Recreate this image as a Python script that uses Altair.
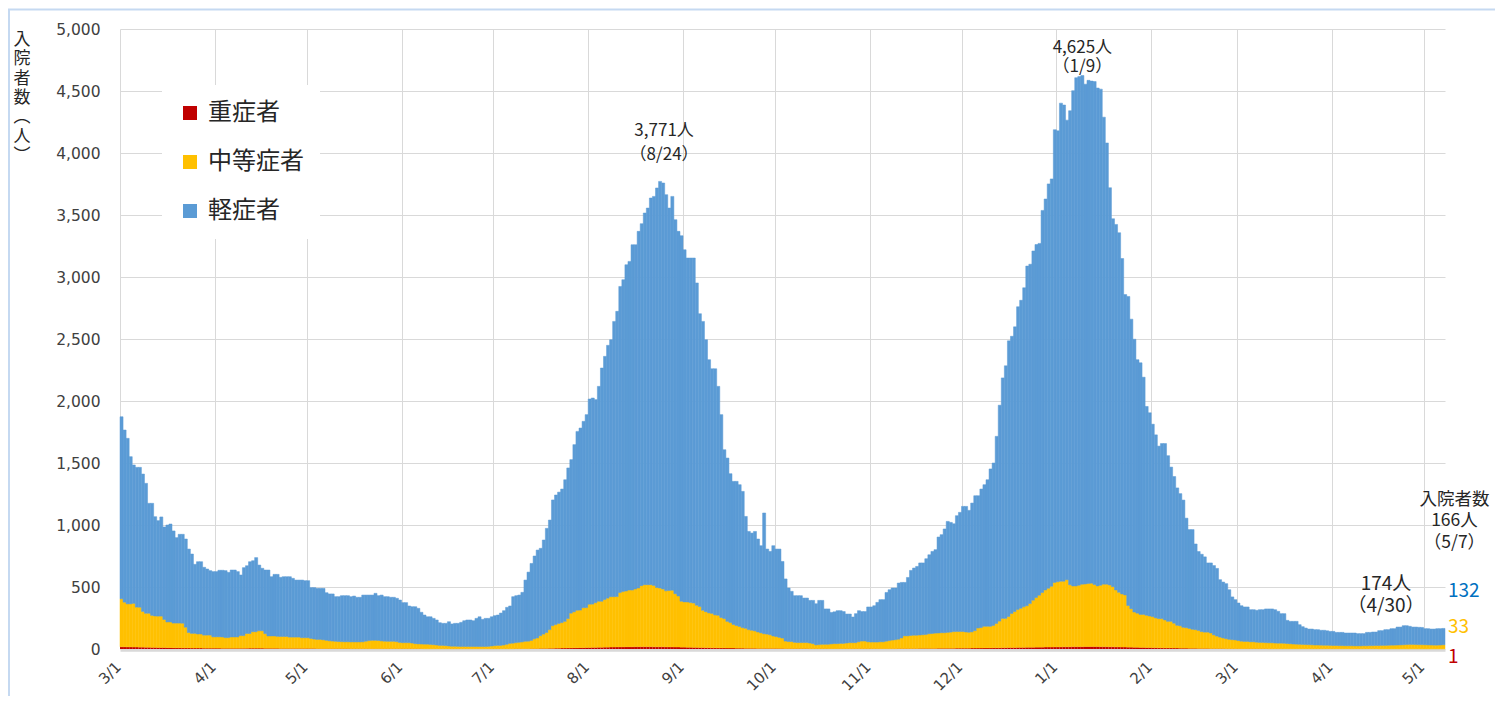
import altair as alt
import pandas as pd

# ---------------- data ----------------
FIRST_DAY = "2022-03-01"
CATEGORIES = ["重症者", "中等症者", "軽症者"]
COLORS = ["#C00000", "#FFC000", "#5B9BD5"]

# 入院者数 (total hospitalized) per day, month by month
t_2203 = [1873,1766,1699,1551,1484,1465,1465,1411,1336,1175,1175,1067,1035,1065,984,1000,1008,952,898,925,925,887,806,766,683,704,704,659,645,632,624]
t_2204 = [624,635,635,632,618,637,637,624,597,656,672,704,712,737,677,651,637,637,583,602,602,578,583,583,583,570,556,556,556,551]
t_2205 = [551,495,495,489,489,489,454,444,444,422,422,430,430,430,422,427,417,417,435,435,435,435,449,430,435,422,422,417,417,409,395]
t_2206 = [374,374,347,341,341,328,296,274,260,260,247,234,212,207,207,220,202,207,207,215,228,234,234,228,247,260,239,247,247,260]
t_2207 = [269,274,290,309,336,347,422,430,435,457,556,620,690,750,798,812,879,973,1040,1202,1242,1265,1290,1365,1460,1527,1648,1755,1782,1836,1890]
t_2208 = [2016,2024,2011,2118,2266,2360,2449,2494,2642,2723,2924,2978,3099,3126,3260,3260,3368,3430,3516,3556,3637,3650,3718,3771,3758,3664,3556,3650,3462,3368,3333]
t_2209 = [3220,3153,3153,3153,2952,2704,2642,2494,2333,2260,2260,2118,1890,1607,1540,1414,1352,1352,1325,1271,1069,948,935,948,887,833,1097,806,787,833]
t_2210 = [806,806,706,565,492,465,430,430,430,411,411,392,392,365,392,392,323,323,295,300,309,309,302,282,282,258,285,309,302,302,339]
t_2211 = [339,349,376,398,398,456,478,492,492,532,537,537,577,634,653,666,694,694,728,760,787,801,903,922,968,1029,1021,1010,1075,1102]
t_2212 = [1150,1150,1118,1177,1236,1236,1290,1325,1365,1452,1500,1715,1966,2186,2284,2485,2522,2598,2760,2812,2913,3088,3103,3210,3262,3271,3537,3629,3751,3791,4188]
t_2301 = [4179,4402,4387,4265,4341,4503,4607,4616,4625,4555,4586,4580,4576,4524,4515,4289,4081,3720,3470,3424,3357,3149,2858,2843,2660,2498,2333,2308,2192,1956,1905]
t_2302 = [1813,1727,1636,1657,1657,1559,1467,1391,1299,1253,1201,1055,963,963,847,786,764,743,694,694,673,650,559,540,527,478,420,398]
t_2303 = [371,349,339,339,317,317,312,317,317,323,323,323,317,304,285,285,231,223,223,223,196,180,169,161,161,156,156,151,151,147,142]
t_2304 = [142,134,134,134,129,129,129,129,124,124,124,134,134,137,137,148,148,156,156,164,164,177,177,188,188,183,177,177,175,174]
t_2305 = [164,164,161,161,164,164,166]

# 中等症者 per day
m_2203 = [387,360,347,347,352,322,322,288,274,274,258,253,253,253,226,207,207,199,199,199,199,167,124,118,118,113,113,105,105,105,91]
m_2204 = [91,91,91,86,86,91,91,91,102,102,118,118,132,132,140,140,118,99,99,99,96,96,96,96,91,91,91,91,86,86]
m_2205 = [86,80,75,73,73,70,66,62,60,58,56,55,54,54,54,54,54,54,55,60,65,67,67,66,62,60,59,59,59,56,50]
m_2206 = [48,48,48,45,40,38,37,37,37,35,33,30,27,27,25,22,20,20,19,18,18,18,18,18,18,18,18,18,19,22]
m_2207 = [25,27,27,30,36,43,45,48,51,54,59,60,65,78,85,102,115,128,150,182,190,199,205,215,236,280,290,303,303,322,322]
m_2208 = [349,349,360,371,371,384,395,406,406,406,438,446,450,457,457,465,473,492,500,500,500,495,478,473,465,452,455,457,430,411,370]
m_2209 = [365,365,360,357,340,330,300,290,280,277,265,263,245,236,215,205,190,182,175,165,161,150,145,140,132,125,118,115,110,100]
m_2210 = [95,89,83,60,56,56,50,48,48,48,48,45,40,30,32,35,35,35,38,40,40,42,42,45,48,48,48,55,61,61,55]
m_2211 = [53,53,53,55,55,60,65,69,72,75,85,102,102,105,107,107,108,110,112,118,120,123,123,125,125,128,130,134,134,134]
m_2212 = [134,130,128,130,140,161,165,174,174,174,180,196,215,236,236,250,275,290,306,315,327,335,352,380,400,419,440,460,474,490,520]
m_2301 = [525,529,529,541,500,489,489,495,504,504,508,511,500,489,495,504,504,498,485,459,440,428,420,336,310,284,275,266,266,260,254]
m_2302 = [250,240,235,235,225,214,214,200,183,180,168,165,160,153,150,145,135,131,131,125,110,100,92,85,80,75,72,70]
m_2303 = [65,60,58,58,55,55,52,50,50,48,48,48,46,45,45,44,42,40,38,37,36,35,34,33,32,30,30,29,28,28,27]
m_2304 = [26,26,25,25,24,24,24,23,23,23,24,24,25,25,26,27,28,28,29,30,30,31,32,33,35,36,36,35,34,34]
m_2305 = [33,32,31,30,30,31,33]

# 重症者 per day
s_2203 = [18,18,17,17,16,16,15,15,14,14,13,13,12,12,12,11,11,10,10,10,9,9,9,8,8,8,8,7,7,7,7]
s_2204 = [7,7,6,6,6,6,6,6,6,6,7,7,7,7,7,7,6,6,6,6,6,5,5,5,5,5,5,5,5,5]
s_2205 = [5,5,5,4,4,4,4,4,4,4,4,4,4,4,3,3,3,3,3,3,3,3,3,3,3,3,3,3,3,3,3]
s_2206 = [3,3,3,3,3,3,3,2,2,2,2,2,2,2,2,2,2,2,2,2,2,2,2,2,2,2,2,2,2,2]
s_2207 = [2,2,2,2,2,2,2,3,3,3,3,3,4,4,4,5,5,5,6,6,7,7,8,8,9,9,10,10,11,11,12]
s_2208 = [12,13,13,14,14,15,15,16,16,17,17,17,18,18,18,19,19,19,19,19,19,18,18,18,18,17,17,17,16,16,15]
s_2209 = [15,14,14,13,13,12,12,11,11,10,10,9,9,9,8,8,8,7,7,7,6,6,6,6,5,5,5,5,5,5]
s_2210 = [5,5,5,4,4,4,4,4,4,4,4,3,3,3,3,3,3,3,3,3,3,3,3,3,3,3,3,3,3,3,3]
s_2211 = [3,3,3,3,3,3,3,3,3,4,4,4,4,4,4,4,5,5,5,5,5,5,6,6,6,6,6,6,7,7]
s_2212 = [7,7,7,8,8,8,8,9,9,9,10,10,10,11,11,12,12,12,13,13,13,14,14,14,15,15,15,16,16,16,17]
s_2301 = [17,17,18,18,18,19,19,19,19,20,20,20,20,20,19,19,19,18,18,17,17,16,16,15,15,14,14,13,13,12,12]
s_2302 = [11,11,10,10,9,9,9,8,8,7,7,7,6,6,6,5,5,5,5,4,4,4,4,4,3,3,3,3]
s_2303 = [3,3,3,3,3,3,3,3,3,3,2,2,2,2,2,2,2,2,2,2,2,2,2,2,2,2,2,2,2,2,2]
s_2304 = [2,2,2,2,2,2,2,2,2,2,2,2,2,2,2,1,1,1,1,1,1,1,1,1,1,1,1,1,1,1]
s_2305 = [1,1,1,1,1,1,1]

# peak annotations
PEAK_DATES = ["2022-08-24", "2023-01-09", "2023-04-30"]
PEAK_VALUES = [3771, 4625, 174]
PEAK_TEXTS = [["3,771人", "（8/24）"], ["4,625人", "（1/9）"], ["174人", "（4/30）"]]
LAST_DATE = "2023-05-07"
Y_TITLE = ["入", "院", "者", "数", "︵", "人", "︶"]
Y_TICKS = [0, 500, 1000, 1500, 2000, 2500, 3000, 3500, 4000, 4500, 5000]

# ---------------- assemble ----------------
total = sum([t_2203, t_2204, t_2205, t_2206, t_2207, t_2208, t_2209, t_2210,
             t_2211, t_2212, t_2301, t_2302, t_2303, t_2304, t_2305], [])
moderate = sum([m_2203, m_2204, m_2205, m_2206, m_2207, m_2208, m_2209, m_2210,
                m_2211, m_2212, m_2301, m_2302, m_2303, m_2304, m_2305], [])
severe = sum([s_2203, s_2204, s_2205, s_2206, s_2207, s_2208, s_2209, s_2210,
              s_2211, s_2212, s_2301, s_2302, s_2303, s_2304, s_2305], [])
assert len(total) == len(moderate) == len(severe) == 433, (len(total), len(moderate), len(severe))

dates = pd.date_range(FIRST_DAY, periods=len(total), freq="D")
rows = []
for d, t, m, s in zip(dates, total, moderate, severe):
    nxt = d + pd.Timedelta(days=1)
    rows.append({"start": d, "end": nxt, "cat": CATEGORIES[0], "y0": 0, "y1": s})
    rows.append({"start": d, "end": nxt, "cat": CATEGORIES[1], "y0": s, "y1": s + m})
    rows.append({"start": d, "end": nxt, "cat": CATEGORIES[2], "y0": s + m, "y1": t})
df = pd.DataFrame(rows)

W, H = 1325, 620
FONT_JP = "Noto Sans CJK JP"
FONT_NUM = "DejaVu Sans"
GRID = "#D9D9D9"
TXT = "#262626"

x_scale = alt.Scale(domain=[alt.DateTime(year=2022, month=3, date=1),
                            alt.DateTime(year=2023, month=5, date=8)])
y_scale = alt.Scale(domain=[0, 5000], nice=False)

month_ticks = []
for yy, mth in [(2022, m) for m in range(3, 13)] + [(2023, m) for m in range(1, 6)]:
    month_ticks.append(alt.DateTime(year=yy, month=mth, date=1))

x_axis = alt.Axis(values=month_ticks, format="%-m/%-d", labelAngle=315,
                  labelAlign="right", labelBaseline="middle", labelPadding=14,
                  labelOffset=-2,
                  ticks=False, grid=True, gridColor=GRID, gridWidth=1,
                  domainColor=GRID, domainWidth=2.5, offset=1,
                  labelFont=FONT_NUM, labelFontSize=15, labelColor="#404040",
                  title=None)
y_axis = alt.Axis(values=Y_TICKS, labelExpr="format(datum.value, ',.0f')", grid=True,
                  gridColor=GRID, gridWidth=1, domain=False, ticks=False,
                  labelFont=FONT_NUM, labelFontSize=15.5, labelColor="#404040",
                  labelPadding=20, title=None)


def X(field):
    return alt.X(field, type="temporal", scale=x_scale, axis=x_axis)


def Y(field):
    return alt.Y(field, type="quantitative", scale=y_scale, axis=y_axis)


legend = alt.Legend(orient="none", legendX=42, legendY=56, title=None,
                    symbolType="square", symbolSize=196, symbolStrokeWidth=0,
                    labelFont=FONT_JP, labelFontSize=24, labelColor=TXT,
                    labelOffset=6, rowPadding=25, padding=16, fillColor="white",
                    direction="vertical")

bars = alt.Chart(df).mark_bar(strokeWidth=0.5).encode(
    x=X("start"),
    x2="end:T",
    y=Y("y1"),
    y2="y0:Q",
    color=alt.Color("cat:N", scale=alt.Scale(domain=CATEGORIES, range=COLORS), legend=legend),
    stroke=alt.Stroke("cat:N", scale=alt.Scale(domain=CATEGORIES,
                      range=["transparent", COLORS[1], COLORS[2]]), legend=None),
)

ann = pd.DataFrame({
    "date": pd.to_datetime(PEAK_DATES) + pd.Timedelta(hours=12),
    "value": PEAK_VALUES,
    "lines": PEAK_TEXTS,
})


def peak_label(i, dx, dy, size, lh):
    return alt.Chart(ann.iloc[[i]]).mark_text(
        font=FONT_JP, fontSize=size, lineHeight=lh, color=TXT,
        align="center", baseline="middle", dx=dx, dy=dy,
    ).encode(x=X("date"), y=Y("value"), text="lines")


lab_3771 = peak_label(0, 4, -50, 17, 24)
lab_4625 = peak_label(1, 0, -28, 17, 19.5)
lab_174 = peak_label(2, -36, -43, 19, 21.6)

last_date = pd.Timestamp(LAST_DATE)
last = pd.DataFrame({
    "date": [last_date + pd.Timedelta(hours=12)],
    "lines": [["入院者数", f"{total[-1]}人", "（5/7）"]],
})
lab_total = alt.Chart(last).mark_text(
    font=FONT_JP, fontSize=17.5, lineHeight=21.7, color=TXT,
    align="center", baseline="middle", dx=11,
).encode(x=X("date"), y=alt.value(470.5), text="lines")

parts = [
    (str(total[-1] - moderate[-1] - severe[-1]), "#0070C0", 561.5),
    (str(moderate[-1]), "#FFC000", 597.5),
    (str(severe[-1]), "#C00000", 627.5),
]
part_layers = []
for label, col, py in parts:
    dfp = pd.DataFrame({"date": [last_date + pd.Timedelta(days=1)], "label": [label]})
    part_layers.append(
        alt.Chart(dfp).mark_text(
            font=FONT_JP, fontSize=19, align="left", baseline="middle", dx=3, color=col,
        ).encode(x=X("date"), y=alt.value(py), text="label")
    )

dummy = pd.DataFrame({"k": [0]})
y_title = alt.Chart(dummy).mark_text(
    font=FONT_JP, fontSize=17, lineHeight=19.3, color=TXT,
    align="center", baseline="top",
).encode(x=alt.value(-98), y=alt.value(3), text=alt.value(Y_TITLE))

frame_left = alt.Chart(dummy).mark_rule(color="#C5D9F1", strokeWidth=2).encode(
    x=alt.value(-111), y=alt.value(-20), y2=alt.value(H + 60))
frame_top = alt.Chart(dummy).mark_rule(color="#C5D9F1", strokeWidth=2).encode(
    x=alt.value(-112), x2=alt.value(W + 60), y=alt.value(-19.5))

chart = alt.layer(
    bars, lab_3771, lab_4625, lab_174, lab_total, *part_layers, y_title,
    frame_left, frame_top,
).properties(
    width=W, height=H,
    autosize=alt.AutoSizeParams(type="none"),
    padding={"left": 112, "top": 21, "right": 50, "bottom": 47},
).configure_view(stroke=None)

chart.save("out.html", embed_options={"renderer": "svg", "actions": False})
